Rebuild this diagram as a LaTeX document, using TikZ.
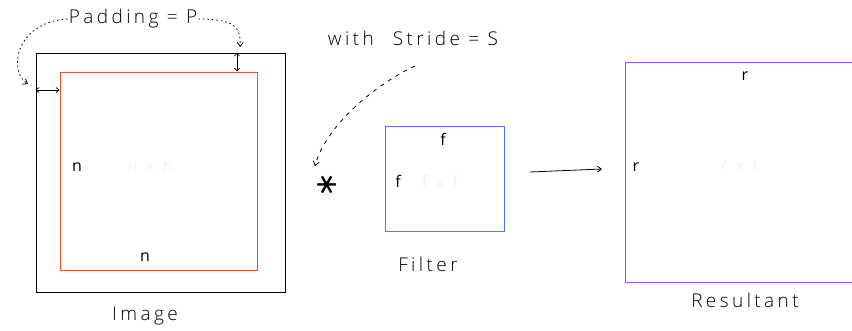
\documentclass[tikz,border=0pt]{standalone}
\usepackage{fontspec}
\setmainfont{Open Sans}
\usetikzlibrary{arrows.meta}
\definecolor{redline}{HTML}{F0522F}
\definecolor{blueline}{HTML}{4A7BF0}
\definecolor{purpleline}{HTML}{A94BF5}
\newfontfamily\handfont[LetterSpace=18]{Open Sans Light}
\newfontfamily\symbfont{DejaVu Sans}
\begin{document}
\begin{tikzpicture}[x=1pt,y=-1pt,
  box/.style={draw, line width=0.9pt, minimum width=#1, inner sep=0pt},
  lbl/.style={font=\handfont\fontsize{19}{21}\selectfont, inner sep=1pt},
  var/.style={font=\fontsize{16}{18}\selectfont, inner sep=1pt},
  faint/.style={font=\fontsize{16}{18}\selectfont, text=black!5, inner sep=1pt},
  tip/.style={-{Straight Barb[length=4pt,width=6pt]}},
  dottedcurve/.style={line width=0.8pt, dash pattern=on 1.5pt off 3pt, tip}
]
\useasboundingbox (0,0) rectangle (852,330);
\clip (0,0) rectangle (852,330);

% Image
\node[box=249pt, minimum height=239pt] (outer) at (160.5,172.5) {};
\node[box=197pt, minimum height=198pt, draw=redline] (red) at (158.5,171) {};
\node[var] (n1) at (77,167) {n};
\node[faint] (nn) at (150,167) {n\ \ x\ \ n};
\node[var] (n2) at (145,257) {n};
\node[lbl] (imglbl) at (145,316) {Image};

% Padding
\node[lbl] (pad) at (133,19) {Padding = P};
\coordinate (pv) at (237,0);
\coordinate (ph) at (0,90);
\draw[{Straight Barb[length=3pt,width=5pt]}-{Straight Barb[length=3pt,width=5pt]}, line width=0.7pt]
  (pv |- outer.north) -- (pv |- red.north);
\draw[{Straight Barb[length=3pt,width=5pt]}-{Straight Barb[length=3pt,width=5pt]}, line width=0.7pt]
  (ph -| outer.west) -- (ph -| red.west);
\coordinate (padL) at (28,84);
\coordinate (padR) at (240,47);
\draw[dottedcurve] (pad.west) .. controls (15,22) and (8,72) .. (padL);
\draw[dottedcurve] (pad.east) .. controls (236,19) and (241,28) .. (padR);

% Stride
\node[lbl] (stride) at (413,38) {with\quad Stride = S};
\node[font=\symbfont\fontsize{30}{30}\selectfont, inner sep=0pt, rotate=90] (star) at (327,185) {∗};
\coordinate (sA) at (415,66);
\coordinate (sB) at (315,166);
\draw[line width=0.8pt, dash pattern=on 4pt off 5pt, tip] (sA) .. controls (372,86) and (325,128) .. (sB);

% Filter
\node[box=119pt, minimum height=105pt, draw=blueline] (filter) at (444.5,178.5) {};
\node[var] (f1) at (443,139) {f};
\node[var] (f2) at (398,181) {f};
\node[faint] (ff) at (440,181) {f\ \ x\ \ f};
\node[lbl] (filtlbl) at (428,264) {Filter};

% Arrow
\coordinate (a1) at (530,172);
\coordinate (a2) at (602,169);
\draw[line width=0.8pt, tip] (a1) -- (a2);

% Resultant
\node[box=240pt, minimum height=220pt, draw=purpleline] (res) at (745,172) {};
\node[var] (r1) at (745,76) {r};
\node[var] (r2) at (636,167) {r};
\node[faint] (rr) at (740,167) {r\ \ x\ \ r};
\node[lbl] (reslbl) at (745,300) {Resultant};
\end{tikzpicture}
\end{document}
